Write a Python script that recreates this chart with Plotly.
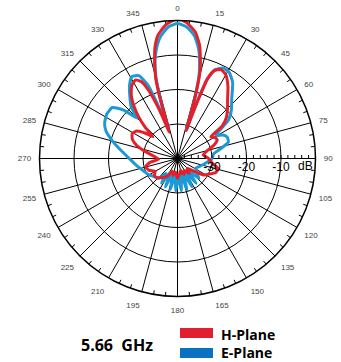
import plotly.graph_objects as go

# ---------------- data ----------------
h_theta = [0, 4, 8, 11, 13, 14.5, 15.8, 16.6, 17.3, 18.5, 19.6, 20.6, 22.5, 26, 30, 35, 40, 45, 50, 54, 57, 61, 65,
           70, 75, 82, 90, 97, 104, 110, 116, 122, 128, 135, 142, 150, 158, 165, 172, 180, 188, 195, 202, 210,
           218, 226, 233, 240, 248, 256, 262, 268, 276, 283, 288, 293, 299, 304, 308, 311.5, 314, 317, 320,
           324, 328, 332, 335, 337, 339, 341, 342.5, 343.4, 343.9, 344.8, 345.7, 347, 348.5, 351, 355, 360]
h_db = [0.6, -0.6, -3, -6.5, -10.5, -14, -20, -26, -31.5, -27, -21, -15.5, -12.5, -11.3, -12, -14.5, -17.4,
        -19.5, -21.5, -24, -28.5, -27.5, -27.3, -28.8, -31, -32.5, -31, -30, -27.8, -28.2, -29.7, -31, -34,
        -36, -34.5, -36, -35, -36.5, -35.5, -34.3, -36, -35, -36, -34, -33, -32, -31.6, -32.5, -31, -30.5,
        -32, -34.5, -33, -30, -27.5, -25.8, -25, -25.8, -28, -30.5, -27, -23.5, -20.5, -17.2, -15, -14.2,
        -15.5, -18.5, -23.5, -29, -32, -27, -21, -16, -13.7, -10.5, -7.2, -3.8, -1.1, 0.6]

e_theta = [0, 4, 8, 11, 13, 14.5, 15.7, 16.5, 17.2, 18.3, 19.3, 20.5, 23, 27, 31, 36, 42, 48, 53, 56, 59, 63, 67,
           72, 77, 83, 90, 98, 108, 118, 127, 133, 138, 143, 148, 153, 158, 163, 168, 173, 178, 183, 188, 193,
           198, 203, 208, 213, 218, 224, 232, 240, 250, 260, 270, 278, 285, 291, 296, 302, 308, 312, 315, 318,
           323, 327, 331, 335, 338, 340, 342.5, 343.5, 344.3, 345.3, 347, 349, 352, 356, 360]
e_db = [-0.9, -1.8, -4.2, -7.8, -11.5, -15, -20.5, -26, -31.5, -27, -21, -15.5, -12, -10.6, -10.9, -12.8, -16.5,
        -19, -21.5, -25, -27, -25, -24.3, -24.5, -27, -29.5, -30, -31.5, -33, -34, -33, -31.5, -35.5, -31,
        -35.5, -30.8, -35.5, -30.5, -35, -30.5, -34.5, -30.5, -35, -30.8, -35.5, -31, -35.5, -31.5, -34.5,
        -32, -31.5, -30.5, -29.5, -28, -26, -23.5, -20.5, -17.8, -16.5, -15.8, -16, -19, -23.5, -20, -17,
        -14.5, -12.8, -13.5, -17, -24, -31, -25, -20, -15, -11, -7.8, -4.4, -1.8, -0.9]

angle_ticks = list(range(0, 360, 15))
angle_labels = [str(a) for a in angle_ticks]
radial_ticks = [-30, -20, -10, 0]
radial_labels = ["-30", "-20", "-10", ""]
radial_minor = list(range(-38, 1, 2))
minor_angles = [a for a in range(0, 360, 5) if a % 15 != 0]

RED = "#E5202B"
BLUE = "#1C9AD6"

fig = go.Figure()

# minor ticks on the outer circle
mt_theta, mt_r = [], []
for a in minor_angles:
    mt_theta += [a, a, None]
    mt_r += [-1.2, 0, None]
fig.add_trace(go.Scatterpolar(theta=mt_theta, r=mt_r, mode="lines",
                              line=dict(color="black", width=1), hoverinfo="skip", showlegend=False))

fig.add_trace(go.Scatterpolar(theta=e_theta, r=e_db, mode="lines", name="E-Plane",
                              line=dict(color=BLUE, width=3, shape="spline", smoothing=0.5), showlegend=False))
fig.add_trace(go.Scatterpolar(theta=h_theta, r=h_db, mode="lines", name="H-Plane",
                              line=dict(color=RED, width=3, shape="spline", smoothing=0.5), showlegend=False))
# second polar only for the small radial ticks
fig.add_trace(go.Scatterpolar(theta=[], r=[], subplot="polar2", showlegend=False))

W, H = 341, 362
cx, cy, R = 177.5, 158.5, 138
dom = dict(x=[(cx - R) / W, (cx + R) / W], y=[1 - (cy + R) / H, 1 - (cy - R) / H])
font_main = "Liberation Sans, Arial"
fig.update_layout(
    width=W, height=H,
    margin=dict(l=0, r=0, t=0, b=0),
    paper_bgcolor="white",
    showlegend=False,
    polar=dict(
        domain=dom,
        bgcolor="white",
        angularaxis=dict(rotation=90, direction="clockwise", tickmode="array",
                         tickvals=angle_ticks, ticktext=angle_labels,
                         tickfont=dict(family=font_main, size=8, color="#444"),
                         ticks="outside", ticklen=6, tickcolor="rgba(0,0,0,0)",
                         showline=True, linecolor="black", linewidth=1.5,
                         gridcolor="black", gridwidth=1),
        radialaxis=dict(range=[-40, 0], tickmode="array", tickvals=radial_ticks, ticktext=radial_labels,
                        angle=0, tickangle=0, side="clockwise", showline=False, ticks="",
                        tickfont=dict(family=font_main, size=12, color="black"),
                        gridcolor="black", gridwidth=1),
    ),
    polar2=dict(
        domain=dom,
        bgcolor="rgba(0,0,0,0)",
        angularaxis=dict(rotation=90, direction="clockwise", visible=False, showgrid=False),
        radialaxis=dict(range=[-40, 0], tickmode="array", tickvals=radial_minor, angle=0,
                        side="counterclockwise", ticks="outside", ticklen=3, tickcolor="black",
                        showticklabels=False, showgrid=False, showline=False),
    ),
)

# "dB" label at the outer end of the radial axis
fig.add_annotation(x=(cx + R - 1) / W, y=1 - (cy + 7) / H, xref="paper", yref="paper",
                   xanchor="right", yanchor="middle", text="dB", showarrow=False,
                   font=dict(family=font_main, size=12, color="black"))

# legend / caption
fig.add_shape(type="rect", xref="paper", yref="paper",
              x0=180 / W, x1=213 / W, y0=1 - 338 / H, y1=1 - 328 / H,
              fillcolor="#E02030", line=dict(width=0))
fig.add_shape(type="rect", xref="paper", yref="paper",
              x0=180 / W, x1=213 / W, y0=1 - 358 / H, y1=1 - 348 / H,
              fillcolor="#0A72C0", line=dict(width=0))
fig.add_annotation(x=219 / W, y=1 - 334 / H, xref="paper", yref="paper", xanchor="left", yanchor="middle",
                   text="<b>H-Plane</b>", showarrow=False,
                   font=dict(family="Open Sans, Liberation Sans", size=14, color="black"))
fig.add_annotation(x=219 / W, y=1 - 352 / H, xref="paper", yref="paper", xanchor="left", yanchor="middle",
                   text="<b>E-Plane</b>", showarrow=False,
                   font=dict(family="Open Sans, Liberation Sans", size=14, color="black"))
fig.add_annotation(x=117 / W, y=1 - 345 / H, xref="paper", yref="paper", xanchor="center", yanchor="middle",
                   text="<b>5.66  GHz</b>", showarrow=False,
                   font=dict(family="Open Sans, Liberation Sans", size=16, color="black"))

fig.write_html("out.html", config={"displayModeBar": False},
               post_script="document.body.style.margin='0px';")
